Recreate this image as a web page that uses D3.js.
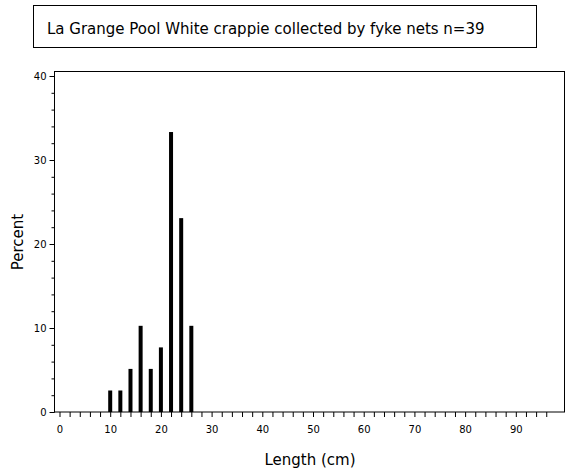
<!DOCTYPE html>
<html><head><meta charset="utf-8">
<script src="https://cdn.jsdelivr.net/npm/d3@7"></script>
<style>body{margin:0;background:#fff}text{font-family:"DejaVu Sans",sans-serif;fill:#000}</style>
</head><body><div id="chart"></div>
<script>
const lengths = [10, 12, 14, 16, 18, 20, 22, 24, 26];
const percents = [2.56, 2.56, 5.13, 10.26, 5.13, 7.69, 33.33, 23.08, 10.26];
const yTicks = [0, 10, 20, 30, 40];
const xTicks = [0, 10, 20, 30, 40, 50, 60, 70, 80, 90];

const svg = d3.select("#chart").append("svg").attr("width", 570).attr("height", 475);

svg.append("rect").attr("x", 33.5).attr("y", 5.5).attr("width", 503).attr("height", 42)
  .attr("fill", "none").attr("stroke", "#000");
svg.append("text").attr("x", 47).attr("y", 34).attr("font-size", 15)
  .text("La Grange Pool White crappie collected by fyke nets   n=39");

const x = d3.scaleLinear().domain([0, 99.7]).range([59.5, 565]);
const y = d3.scaleLinear().domain([0, 40]).range([412, 76]);

svg.append("rect").attr("x", 54.5).attr("y", 71.5).attr("width", 510).attr("height", 340.5)
  .attr("fill", "none").attr("stroke", "#000");

svg.append("g").attr("transform", "translate(54.5,0)")
  .call(d3.axisLeft(y).tickValues(d3.range(0, 41, 2)).tickSize(3).tickFormat(""))
  .call(g => g.select(".domain").remove());
svg.append("g").attr("transform", "translate(54.5,0)")
  .call(d3.axisLeft(y).tickValues(yTicks).tickSize(5).tickPadding(3))
  .call(g => g.select(".domain").remove())
  .selectAll("text").attr("font-size", 10).attr("font-family", "DejaVu Sans");

svg.append("g").attr("transform", "translate(0,412)")
  .call(d3.axisBottom(x).tickValues(d3.range(0, 98, 2)).tickSize(5).tickFormat(""))
  .call(g => g.select(".domain").remove());
svg.append("g").attr("transform", "translate(0,412)")
  .call(d3.axisBottom(x).tickValues(xTicks).tickSize(0).tickPadding(14))
  .call(g => g.select(".domain").remove())
  .selectAll("text").attr("font-size", 10).attr("font-family", "DejaVu Sans");

svg.selectAll(".bar").data(lengths).join("rect")
  .attr("x", d => x(d) - 2).attr("width", 4)
  .attr("y", (d, i) => y(percents[i])).attr("height", (d, i) => 412 - y(percents[i]))
  .attr("fill", "#000");

svg.append("text").attr("x", 310).attr("y", 465).attr("text-anchor", "middle")
  .attr("font-size", 15).text("Length (cm)");
svg.append("text").attr("transform", "translate(23,242) rotate(-90)").attr("text-anchor", "middle")
  .attr("font-size", 15).text("Percent");
</script></body></html>
